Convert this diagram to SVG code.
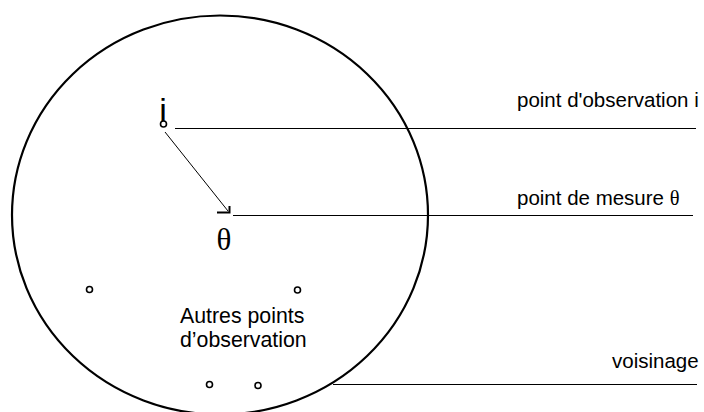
<svg xmlns="http://www.w3.org/2000/svg" width="704" height="412" viewBox="0 0 704 412">
<style>
.lbl{font-family:"Liberation Sans",Arial,sans-serif;font-size:20.5px;fill:#000}
.pt{fill:#fff;stroke:#000;stroke-width:1.6}
.ln{stroke:#000;stroke-width:1.2;fill:none}
</style>
<rect width="704" height="412" fill="#fff"/>
<g id="voisinage">
<ellipse cx="220" cy="215" rx="208" ry="199.5" fill="none" stroke="#000" stroke-width="2.2"/>
</g>
<g id="connectors">
<line class="ln" x1="175" y1="128.5" x2="696" y2="128.5"/>
<line class="ln" x1="233" y1="215.5" x2="693" y2="215.5"/>
<line class="ln" x1="333" y1="384.5" x2="697" y2="384.5"/>
<line x1="165" y1="132" x2="228" y2="211" stroke="#000" stroke-width="1"/>
<polyline points="217,212.5 229.5,212.5 229.5,206" fill="none" stroke="#000" stroke-width="2"/>
</g>
<g id="point-i">
<text x="163" y="122" text-anchor="middle" font-family="Liberation Sans,Arial,sans-serif" font-size="34">i</text>
<circle class="pt" cx="163.5" cy="124" r="3"/>
</g>
<g id="point-theta">
<text x="224" y="250" text-anchor="middle" font-family="Liberation Serif,'Times New Roman',serif" font-size="31">θ</text>
</g>
<g id="autres-points">
<circle class="pt" cx="89.5" cy="289.5" r="3"/>
<circle class="pt" cx="297.5" cy="290" r="3"/>
<circle class="pt" cx="209.5" cy="384.5" r="3"/>
<circle class="pt" cx="258" cy="385.5" r="3"/>
<text class="lbl" style="font-size:21.3px" x="180" y="323">Autres points</text>
<text class="lbl" style="font-size:21.3px" x="180" y="347">d’observation</text>
</g>
<g id="labels">
<text class="lbl" x="517" y="107">point d'observation i</text>
<text class="lbl" x="517" y="205">point de mesure <tspan font-family="Liberation Serif,'Times New Roman',serif">θ</tspan></text>
<text class="lbl" x="612" y="368">voisinage</text>
</g>
</svg>
